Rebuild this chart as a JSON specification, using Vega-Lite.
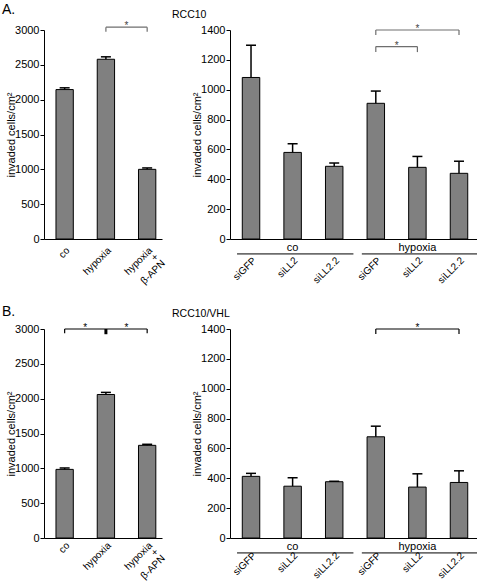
{
  "$schema": "https://vega.github.io/schema/vega-lite/v6.json",
  "background": "white",
  "padding": {"left": 2, "top": 3, "right": 0, "bottom": 0},
  "config": {
    "font": "Liberation Sans",
    "view": {"stroke": null},
    "axis": {"grid": false, "domainColor": "black", "domainWidth": 1, "tickColor": "black", "tickWidth": 1, "labelColor": "black", "titleColor": "black", "titleFontWeight": "normal", "labelFont": "Liberation Sans", "titleFont": "Liberation Sans", "labelOverlap": false},
    "axisY": {"labelFontSize": 11, "titleFontSize": 11, "tickSize": 4, "labelPadding": 1, "titlePadding": -2, "format": "d"},
    "axisX": {"labelFontSize": 10, "ticks": false, "tickSize": 0, "labelAngle": -45, "labelLimit": 200, "labelLineHeight": 9},
    "title": {"anchor": "start", "frame": "group", "fontWeight": "normal", "color": "black", "font": "Liberation Sans"}
  },
  "datasets": {
    "aL": [
      {"cond": "co", "mean": 2145, "upper": 2170},
      {"cond": "hypoxia", "mean": 2580, "upper": 2615},
      {"cond": "hypoxia + β-APN", "mean": 1000, "upper": 1020}
    ],
    "bL": [
      {"cond": "co", "mean": 985, "upper": 1005},
      {"cond": "hypoxia", "mean": 2060, "upper": 2090},
      {"cond": "hypoxia + β-APN", "mean": 1330, "upper": 1345}
    ],
    "aR": [
      {"key": "co|siGFP", "mean": 1082, "upper": 1298},
      {"key": "co|siLL2", "mean": 580, "upper": 638},
      {"key": "co|siLL2.2", "mean": 487, "upper": 509},
      {"key": "hypoxia|siGFP", "mean": 909, "upper": 991},
      {"key": "hypoxia|siLL2", "mean": 480, "upper": 553},
      {"key": "hypoxia|siLL2.2", "mean": 440, "upper": 521}
    ],
    "bR": [
      {"key": "co|siGFP", "mean": 413, "upper": 433},
      {"key": "co|siLL2", "mean": 347, "upper": 404},
      {"key": "co|siLL2.2", "mean": 377, "upper": 380},
      {"key": "hypoxia|siGFP", "mean": 678, "upper": 749},
      {"key": "hypoxia|siLL2", "mean": 341, "upper": 430},
      {"key": "hypoxia|siLL2.2", "mean": 372, "upper": 450}
    ],
    "groups": [
      {"group": "co", "first": "co|siGFP", "mid": "co|siLL2", "last": "co|siLL2.2"},
      {"group": "hypoxia", "first": "hypoxia|siGFP", "mid": "hypoxia|siLL2", "last": "hypoxia|siLL2.2"}
    ],
    "aLbr": [{"from": "hypoxia", "to": "hypoxia + β-APN", "y": 3040, "yEnd": 2975}],
    "aLstar": [{"after": "hypoxia", "y": 3040}],
    "aRbr": [
      {"from": "hypoxia|siGFP", "to": "hypoxia|siLL2.2", "y": 1400, "yEnd": 1367},
      {"from": "hypoxia|siGFP", "to": "hypoxia|siLL2", "y": 1289, "yEnd": 1252}
    ],
    "aRstarMid": [{"at": "hypoxia|siLL2", "y": 1400}],
    "aRstarBetween": [{"after": "hypoxia|siGFP", "y": 1289}],
    "bLbr": [{"from": "co", "to": "hypoxia + β-APN", "y": 3000, "yEnd": 2938}],
    "bLmid": [{"at": "hypoxia", "y": 3000, "yEnd": 2925}],
    "bLstar": [{"after": "co", "y": 3000}, {"after": "hypoxia", "y": 3000}],
    "bRbr": [{"from": "hypoxia|siGFP", "to": "hypoxia|siLL2.2", "y": 1400, "yEnd": 1367}],
    "bRstar": [{"at": "hypoxia|siLL2", "y": 1400}]
  },
  "columns": 2,
  "bounds": "flush",
  "spacing": {"row": 90, "column": 68},
  "concat": [
    {
      "title": {"text": "A.", "fontSize": 14, "dx": -42},
      "width": 118, "height": 209,
      "layer": [
        {"data": {"name": "aL"}, "mark": {"type": "bar", "fill": "#808080", "stroke": "black", "strokeWidth": 1, "opacity": 1},
         "encoding": {
           "x": {"field": "cond", "type": "nominal", "title": null, "scale": {"domain": ["co", "hypoxia", "hypoxia + β-APN"], "paddingInner": 0.58, "paddingOuter": 0.22, "align": 0.66}, "axis": {"labelAngle": -45, "labelPadding": 6, "labelExpr": "datum.value === 'hypoxia + β-APN' ? ['hypoxia', '+\u00a0\u00a0\u00a0', 'β-APN'] : datum.value"}},
           "y": {"field": "mean", "type": "quantitative", "title": "invaded cells/cm²", "scale": {"domain": [0, 3000], "nice": false}, "axis": {"values": [0, 500, 1000, 1500, 2000, 2500, 3000], "labelOverlap": false}}}},
        {"data": {"name": "aL"}, "mark": {"type": "rule", "color": "black", "strokeWidth": 1.5},
         "encoding": {"x": {"field": "cond", "type": "nominal", "title": null}, "y": {"field": "mean", "type": "quantitative", "title": "invaded cells/cm²", "axis": {"values": [0, 500, 1000, 1500, 2000, 2500, 3000], "labelOverlap": false}}, "y2": {"field": "upper"}}},
        {"data": {"name": "aL"}, "mark": {"type": "tick", "color": "black", "opacity": 1, "thickness": 1.5, "size": 10},
         "encoding": {"x": {"field": "cond", "type": "nominal", "title": null}, "y": {"field": "upper", "type": "quantitative", "title": "invaded cells/cm²", "axis": {"values": [0, 500, 1000, 1500, 2000, 2500, 3000], "labelOverlap": false}}}},
        {"data": {"name": "aLbr"}, "mark": {"type": "rule", "color": "#6e6e6e", "strokeWidth": 1.2},
         "encoding": {"x": {"field": "from", "type": "nominal", "title": null}, "x2": {"field": "to"}, "y": {"field": "y", "type": "quantitative", "title": "invaded cells/cm²", "axis": {"values": [0, 500, 1000, 1500, 2000, 2500, 3000], "labelOverlap": false}}}},
        {"data": {"name": "aLbr"}, "mark": {"type": "rule", "color": "#6e6e6e", "strokeWidth": 1.2},
         "encoding": {"x": {"field": "from", "type": "nominal", "title": null}, "y": {"field": "y", "type": "quantitative", "title": "invaded cells/cm²", "axis": {"values": [0, 500, 1000, 1500, 2000, 2500, 3000], "labelOverlap": false}}, "y2": {"field": "yEnd"}}},
        {"data": {"name": "aLbr"}, "mark": {"type": "rule", "color": "#6e6e6e", "strokeWidth": 1.2},
         "encoding": {"x": {"field": "to", "type": "nominal", "title": null}, "y": {"field": "y", "type": "quantitative", "title": "invaded cells/cm²", "axis": {"values": [0, 500, 1000, 1500, 2000, 2500, 3000], "labelOverlap": false}}, "y2": {"field": "yEnd"}}},
        {"data": {"name": "aLstar"}, "mark": {"type": "text", "text": "*", "fontSize": 10, "color": "#444", "baseline": "alphabetic", "dy": 2},
         "encoding": {"x": {"field": "after", "type": "nominal", "title": null, "bandPosition": 1.69}, "y": {"field": "y", "type": "quantitative", "title": "invaded cells/cm²", "axis": {"values": [0, 500, 1000, 1500, 2000, 2500, 3000], "labelOverlap": false}}}}
      ]
    },
    {
      "title": {"text": "RCC10", "fontSize": 10.5, "dx": -58},
      "width": 247, "height": 209,
      "layer": [
        {"data": {"name": "aR"}, "mark": {"type": "bar", "fill": "#808080", "stroke": "black", "strokeWidth": 1, "opacity": 1},
         "encoding": {
           "x": {"field": "key", "type": "nominal", "title": null, "scale": {"domain": ["co|siGFP", "co|siLL2", "co|siLL2.2", "hypoxia|siGFP", "hypoxia|siLL2", "hypoxia|siLL2.2"], "paddingInner": 0.58, "paddingOuter": 0.259, "align": 0.57}, "axis": {"labelAngle": -45, "labelPadding": 16, "labelExpr": "split(datum.value, '|')[1]"}},
           "y": {"field": "mean", "type": "quantitative", "title": "invaded cells/cm²", "scale": {"domain": [0, 1400], "nice": false}, "axis": {"values": [0, 200, 400, 600, 800, 1000, 1200, 1400], "labelOverlap": false}}}},
        {"data": {"name": "aR"}, "mark": {"type": "rule", "color": "black", "strokeWidth": 1.5},
         "encoding": {"x": {"field": "key", "type": "nominal", "title": null}, "y": {"field": "mean", "type": "quantitative", "title": "invaded cells/cm²", "axis": {"values": [0, 200, 400, 600, 800, 1000, 1200, 1400], "labelOverlap": false}}, "y2": {"field": "upper"}}},
        {"data": {"name": "aR"}, "mark": {"type": "tick", "color": "black", "opacity": 1, "thickness": 1.5, "size": 10},
         "encoding": {"x": {"field": "key", "type": "nominal", "title": null}, "y": {"field": "upper", "type": "quantitative", "title": "invaded cells/cm²", "axis": {"values": [0, 200, 400, 600, 800, 1000, 1200, 1400], "labelOverlap": false}}}},
        {"data": {"name": "groups"}, "mark": {"type": "text", "fontSize": 11, "color": "black", "baseline": "alphabetic"},
         "encoding": {"x": {"field": "mid", "type": "nominal", "title": null}, "y": {"datum": -80, "type": "quantitative", "title": "invaded cells/cm²", "axis": {"values": [0, 200, 400, 600, 800, 1000, 1200, 1400], "labelOverlap": false}}, "text": {"field": "group"}}},
        {"data": {"name": "groups"}, "mark": {"type": "rule", "color": "black", "strokeWidth": 1},
         "encoding": {"x": {"field": "first", "type": "nominal", "title": null, "bandPosition": -0.3}, "x2": {"field": "last", "bandPosition": 1.6}, "y": {"datum": -100, "type": "quantitative", "title": "invaded cells/cm²", "axis": {"values": [0, 200, 400, 600, 800, 1000, 1200, 1400], "labelOverlap": false}}}},
        {"data": {"name": "aRbr"}, "mark": {"type": "rule", "color": "#6e6e6e", "strokeWidth": 1.2},
         "encoding": {"x": {"field": "from", "type": "nominal", "title": null}, "x2": {"field": "to"}, "y": {"field": "y", "type": "quantitative", "title": "invaded cells/cm²", "axis": {"values": [0, 200, 400, 600, 800, 1000, 1200, 1400], "labelOverlap": false}}}},
        {"data": {"name": "aRbr"}, "mark": {"type": "rule", "color": "#6e6e6e", "strokeWidth": 1.2},
         "encoding": {"x": {"field": "from", "type": "nominal", "title": null}, "y": {"field": "y", "type": "quantitative", "title": "invaded cells/cm²", "axis": {"values": [0, 200, 400, 600, 800, 1000, 1200, 1400], "labelOverlap": false}}, "y2": {"field": "yEnd"}}},
        {"data": {"name": "aRbr"}, "mark": {"type": "rule", "color": "#6e6e6e", "strokeWidth": 1.2},
         "encoding": {"x": {"field": "to", "type": "nominal", "title": null}, "y": {"field": "y", "type": "quantitative", "title": "invaded cells/cm²", "axis": {"values": [0, 200, 400, 600, 800, 1000, 1200, 1400], "labelOverlap": false}}, "y2": {"field": "yEnd"}}},
        {"data": {"name": "aRstarMid"}, "mark": {"type": "text", "text": "*", "fontSize": 10, "color": "#444", "baseline": "alphabetic", "dy": 2},
         "encoding": {"x": {"field": "at", "type": "nominal", "title": null}, "y": {"field": "y", "type": "quantitative", "title": "invaded cells/cm²", "axis": {"values": [0, 200, 400, 600, 800, 1000, 1200, 1400], "labelOverlap": false}}}},
        {"data": {"name": "aRstarBetween"}, "mark": {"type": "text", "text": "*", "fontSize": 10, "color": "#444", "baseline": "alphabetic", "dy": 2},
         "encoding": {"x": {"field": "after", "type": "nominal", "title": null, "bandPosition": 1.69}, "y": {"field": "y", "type": "quantitative", "title": "invaded cells/cm²", "axis": {"values": [0, 200, 400, 600, 800, 1000, 1200, 1400], "labelOverlap": false}}}}
      ]
    },
    {
      "title": {"text": "B.", "fontSize": 14, "dx": -42},
      "width": 118, "height": 209,
      "layer": [
        {"data": {"name": "bL"}, "mark": {"type": "bar", "fill": "#808080", "stroke": "black", "strokeWidth": 1, "opacity": 1},
         "encoding": {
           "x": {"field": "cond", "type": "nominal", "title": null, "scale": {"domain": ["co", "hypoxia", "hypoxia + β-APN"], "paddingInner": 0.58, "paddingOuter": 0.22, "align": 0.66}, "axis": {"labelAngle": -45, "labelPadding": 2, "labelExpr": "datum.value === 'hypoxia + β-APN' ? ['hypoxia', '+\u00a0\u00a0\u00a0', 'β-APN'] : datum.value"}},
           "y": {"field": "mean", "type": "quantitative", "title": "invaded cells/cm²", "scale": {"domain": [0, 3000], "nice": false}, "axis": {"values": [0, 500, 1000, 1500, 2000, 2500, 3000], "labelOverlap": false}}}},
        {"data": {"name": "bL"}, "mark": {"type": "rule", "color": "black", "strokeWidth": 1.5},
         "encoding": {"x": {"field": "cond", "type": "nominal", "title": null}, "y": {"field": "mean", "type": "quantitative", "title": "invaded cells/cm²", "axis": {"values": [0, 500, 1000, 1500, 2000, 2500, 3000], "labelOverlap": false}}, "y2": {"field": "upper"}}},
        {"data": {"name": "bL"}, "mark": {"type": "tick", "color": "black", "opacity": 1, "thickness": 1.5, "size": 10},
         "encoding": {"x": {"field": "cond", "type": "nominal", "title": null}, "y": {"field": "upper", "type": "quantitative", "title": "invaded cells/cm²", "axis": {"values": [0, 500, 1000, 1500, 2000, 2500, 3000], "labelOverlap": false}}}},
        {"data": {"name": "bLbr"}, "mark": {"type": "rule", "color": "black", "strokeWidth": 1.2},
         "encoding": {"x": {"field": "from", "type": "nominal", "title": null}, "x2": {"field": "to"}, "y": {"field": "y", "type": "quantitative", "title": "invaded cells/cm²", "axis": {"values": [0, 500, 1000, 1500, 2000, 2500, 3000], "labelOverlap": false}}}},
        {"data": {"name": "bLbr"}, "mark": {"type": "rule", "color": "black", "strokeWidth": 1.2},
         "encoding": {"x": {"field": "from", "type": "nominal", "title": null}, "y": {"field": "y", "type": "quantitative", "title": "invaded cells/cm²", "axis": {"values": [0, 500, 1000, 1500, 2000, 2500, 3000], "labelOverlap": false}}, "y2": {"field": "yEnd"}}},
        {"data": {"name": "bLbr"}, "mark": {"type": "rule", "color": "black", "strokeWidth": 1.2},
         "encoding": {"x": {"field": "to", "type": "nominal", "title": null}, "y": {"field": "y", "type": "quantitative", "title": "invaded cells/cm²", "axis": {"values": [0, 500, 1000, 1500, 2000, 2500, 3000], "labelOverlap": false}}, "y2": {"field": "yEnd"}}},
        {"data": {"name": "bLmid"}, "mark": {"type": "rule", "color": "black", "strokeWidth": 3},
         "encoding": {"x": {"field": "at", "type": "nominal", "title": null}, "y": {"field": "y", "type": "quantitative", "title": "invaded cells/cm²", "axis": {"values": [0, 500, 1000, 1500, 2000, 2500, 3000], "labelOverlap": false}}, "y2": {"field": "yEnd"}}},
        {"data": {"name": "bLstar"}, "mark": {"type": "text", "text": "*", "fontSize": 10, "color": "black", "baseline": "alphabetic", "dy": 2},
         "encoding": {"x": {"field": "after", "type": "nominal", "title": null, "bandPosition": 1.69}, "y": {"field": "y", "type": "quantitative", "title": "invaded cells/cm²", "axis": {"values": [0, 500, 1000, 1500, 2000, 2500, 3000], "labelOverlap": false}}}}
      ]
    },
    {
      "title": {"text": "RCC10/VHL", "fontSize": 10.5, "dx": -58},
      "width": 247, "height": 209,
      "layer": [
        {"data": {"name": "bR"}, "mark": {"type": "bar", "fill": "#808080", "stroke": "black", "strokeWidth": 1, "opacity": 1},
         "encoding": {
           "x": {"field": "key", "type": "nominal", "title": null, "scale": {"domain": ["co|siGFP", "co|siLL2", "co|siLL2.2", "hypoxia|siGFP", "hypoxia|siLL2", "hypoxia|siLL2.2"], "paddingInner": 0.58, "paddingOuter": 0.259, "align": 0.57}, "axis": {"labelAngle": -45, "labelPadding": 12, "labelExpr": "split(datum.value, '|')[1]"}},
           "y": {"field": "mean", "type": "quantitative", "title": "invaded cells/cm²", "scale": {"domain": [0, 1400], "nice": false}, "axis": {"values": [0, 200, 400, 600, 800, 1000, 1200, 1400], "labelOverlap": false}}}},
        {"data": {"name": "bR"}, "mark": {"type": "rule", "color": "black", "strokeWidth": 1.5},
         "encoding": {"x": {"field": "key", "type": "nominal", "title": null}, "y": {"field": "mean", "type": "quantitative", "title": "invaded cells/cm²", "axis": {"values": [0, 200, 400, 600, 800, 1000, 1200, 1400], "labelOverlap": false}}, "y2": {"field": "upper"}}},
        {"data": {"name": "bR"}, "mark": {"type": "tick", "color": "black", "opacity": 1, "thickness": 1.5, "size": 10},
         "encoding": {"x": {"field": "key", "type": "nominal", "title": null}, "y": {"field": "upper", "type": "quantitative", "title": "invaded cells/cm²", "axis": {"values": [0, 200, 400, 600, 800, 1000, 1200, 1400], "labelOverlap": false}}}},
        {"data": {"name": "groups"}, "mark": {"type": "text", "fontSize": 11, "color": "black", "baseline": "alphabetic"},
         "encoding": {"x": {"field": "mid", "type": "nominal", "title": null}, "y": {"datum": -80, "type": "quantitative", "title": "invaded cells/cm²", "axis": {"values": [0, 200, 400, 600, 800, 1000, 1200, 1400], "labelOverlap": false}}, "text": {"field": "group"}}},
        {"data": {"name": "groups"}, "mark": {"type": "rule", "color": "black", "strokeWidth": 1},
         "encoding": {"x": {"field": "first", "type": "nominal", "title": null, "bandPosition": -0.3}, "x2": {"field": "last", "bandPosition": 1.6}, "y": {"datum": -100, "type": "quantitative", "title": "invaded cells/cm²", "axis": {"values": [0, 200, 400, 600, 800, 1000, 1200, 1400], "labelOverlap": false}}}},
        {"data": {"name": "bRbr"}, "mark": {"type": "rule", "color": "black", "strokeWidth": 1.2},
         "encoding": {"x": {"field": "from", "type": "nominal", "title": null}, "x2": {"field": "to"}, "y": {"field": "y", "type": "quantitative", "title": "invaded cells/cm²", "axis": {"values": [0, 200, 400, 600, 800, 1000, 1200, 1400], "labelOverlap": false}}}},
        {"data": {"name": "bRbr"}, "mark": {"type": "rule", "color": "black", "strokeWidth": 1.2},
         "encoding": {"x": {"field": "from", "type": "nominal", "title": null}, "y": {"field": "y", "type": "quantitative", "title": "invaded cells/cm²", "axis": {"values": [0, 200, 400, 600, 800, 1000, 1200, 1400], "labelOverlap": false}}, "y2": {"field": "yEnd"}}},
        {"data": {"name": "bRbr"}, "mark": {"type": "rule", "color": "black", "strokeWidth": 1.2},
         "encoding": {"x": {"field": "to", "type": "nominal", "title": null}, "y": {"field": "y", "type": "quantitative", "title": "invaded cells/cm²", "axis": {"values": [0, 200, 400, 600, 800, 1000, 1200, 1400], "labelOverlap": false}}, "y2": {"field": "yEnd"}}},
        {"data": {"name": "bRstar"}, "mark": {"type": "text", "text": "*", "fontSize": 10, "color": "black", "baseline": "alphabetic", "dy": 2},
         "encoding": {"x": {"field": "at", "type": "nominal", "title": null}, "y": {"field": "y", "type": "quantitative", "title": "invaded cells/cm²", "axis": {"values": [0, 200, 400, 600, 800, 1000, 1200, 1400], "labelOverlap": false}}}}
      ]
    }
  ]
}
